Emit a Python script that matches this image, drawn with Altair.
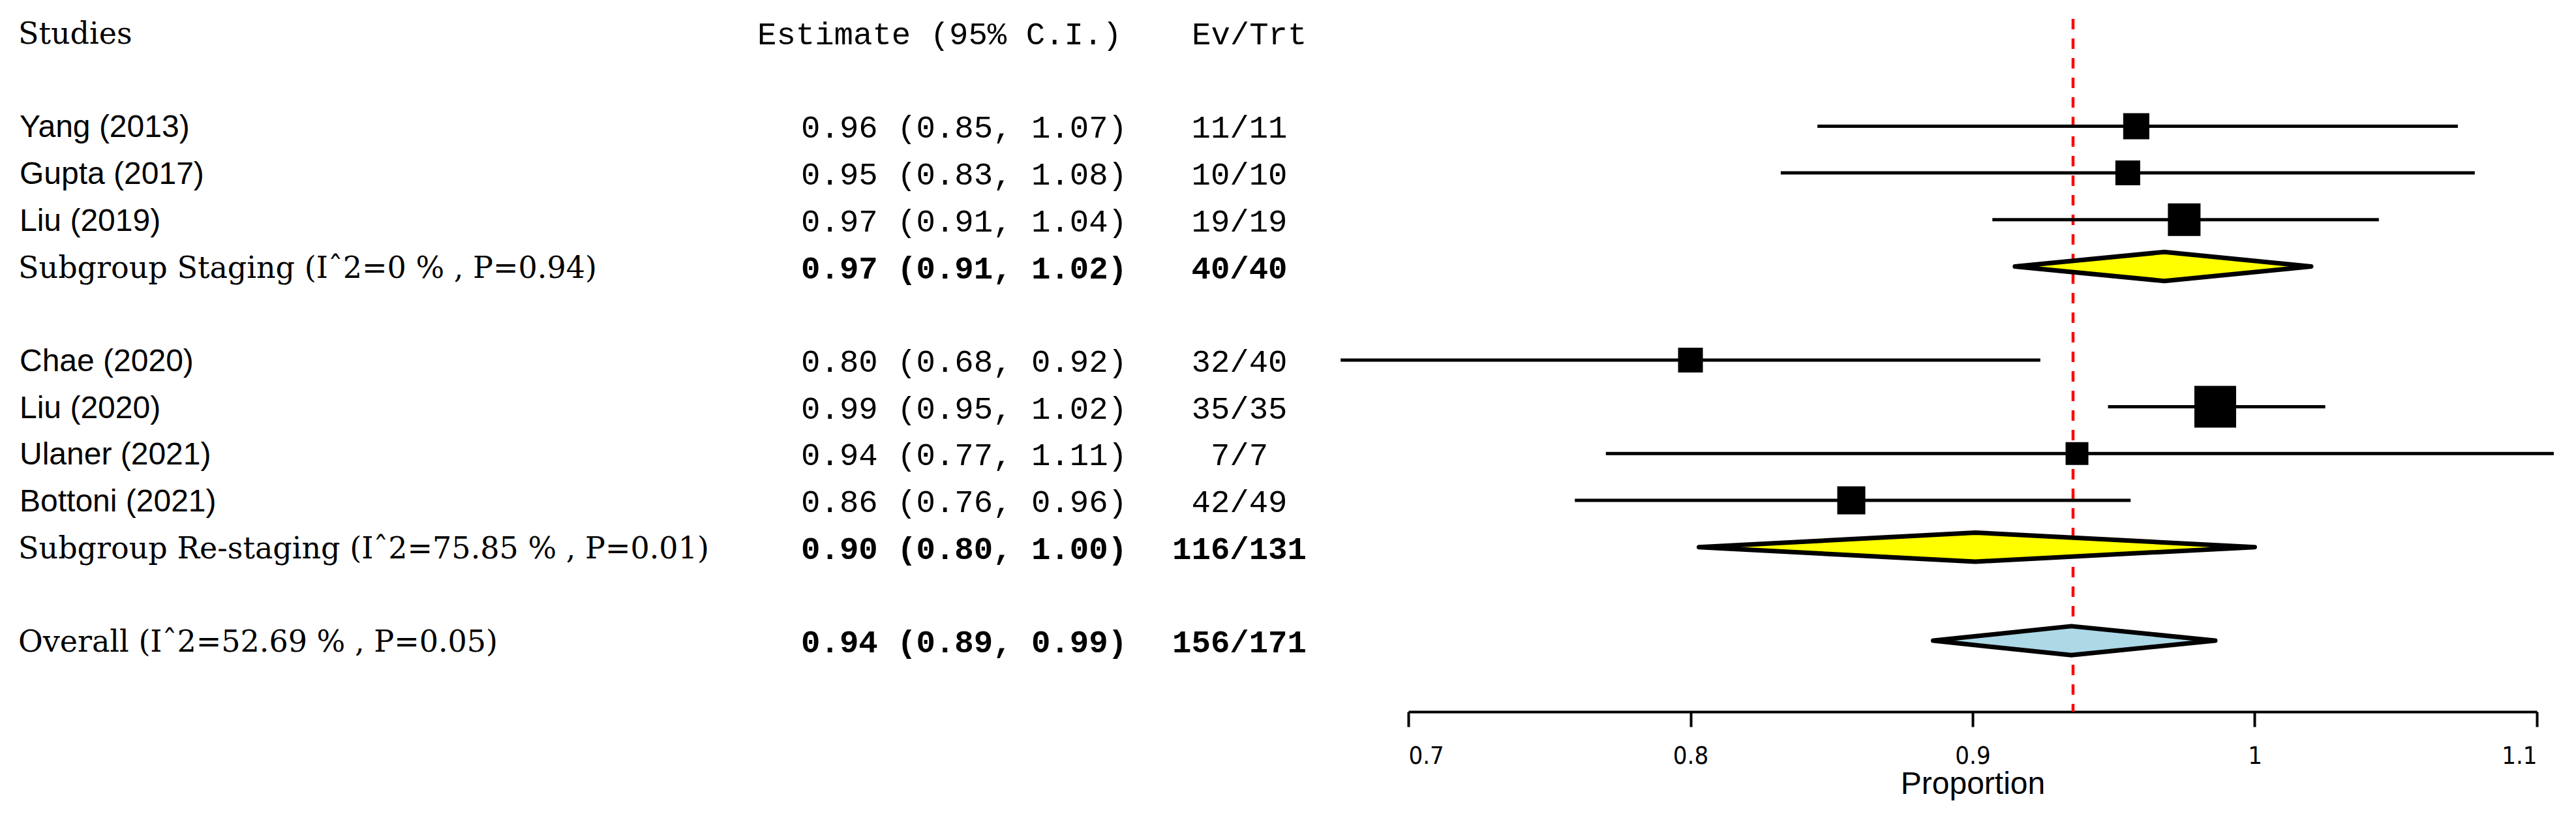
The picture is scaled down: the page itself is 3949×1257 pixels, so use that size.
import altair as alt
import pandas as pd

# ---------------- data ----------------
study_names = ["Yang (2013)", "Gupta (2017)", "Liu (2019)", "Chae (2020)",
               "Liu (2020)", "Ulaner (2021)", "Bottoni (2021)"]
study_rows = [2, 3, 4, 7, 8, 9, 10]
study_est = [0.958, 0.955, 0.975, 0.800, 0.986, 0.937, 0.857]
study_lower = [0.845, 0.832, 0.907, 0.676, 0.948, 0.770, 0.759]
study_upper = [1.072, 1.078, 1.044, 0.924, 1.025, 1.106, 0.956]
study_ci_text = ["0.96 (0.85, 1.07)", "0.95 (0.83, 1.08)", "0.97 (0.91, 1.04)",
                 "0.80 (0.68, 0.92)", "0.99 (0.95, 1.02)", "0.94 (0.77, 1.11)",
                 "0.86 (0.76, 0.96)"]
study_evtrt = ["11/11", "10/10", "19/19", "32/40", "35/35", "7/7", "42/49"]
study_weight = [40, 38, 50, 38, 64, 35, 43]

summ_names = ["Subgroup Staging (I\u02c62=0 % , P=0.94)",
              "Subgroup Re-staging (I\u02c62=75.85 % , P=0.01)",
              "Overall (I\u02c62=52.69 % , P=0.05)"]
summ_key = ["staging", "restaging", "overall"]
summ_rows = [5, 11, 13]
summ_est = [0.968, 0.901, 0.935]
summ_lower = [0.915, 0.803, 0.886]
summ_upper = [1.020, 1.000, 0.986]
summ_ci_text = ["0.97 (0.91, 1.02)", "0.90 (0.80, 1.00)", "0.94 (0.89, 0.99)"]
summ_evtrt = ["40/40", "116/131", "156/171"]
summ_fill = ["#FFFF00", "#FFFF00", "#ADD8E6"]

ref_value = [0.9356]
x_ticks = [0.7, 0.8, 0.9, 1.0, 1.1]
headers = ["Studies", "Estimate (95% C.I.)", "Ev/Trt"]

# ---------------- layout constants ----------------
W, H = 1730, 1062
HALF_H = 0.31  # half height of diamonds, in rows

studies = pd.DataFrame({
    "name": study_names, "row": study_rows, "est": study_est,
    "lo": study_lower, "hi": study_upper, "ci": study_ci_text,
    "ev": study_evtrt, "w": study_weight,
})
summ = pd.DataFrame({
    "name": summ_names, "row": summ_rows, "ci": summ_ci_text, "ev": summ_evtrt,
})

dia_recs = []
for k, r, lo, e, hi in zip(summ_key, summ_rows, summ_lower, summ_est, summ_upper):
    dia_recs.append({"g": k, "x": lo, "yt": r, "yb": r})
    dia_recs.append({"g": k, "x": e, "yt": r - HALF_H, "yb": r + HALF_H})
    dia_recs.append({"g": k, "x": hi, "yt": r, "yb": r})
diamonds = pd.DataFrame(dia_recs)

hdr = pd.DataFrame({"t": headers, "row": [0, 0, 0]})
ref_df = pd.DataFrame({"x": ref_value})

xscale = alt.Scale(domain=[0.7, 1.1], nice=False, zero=False)
yscale = alt.Scale(domain=[-0.293, 14.519], reverse=True, nice=False, zero=False)

COND = "DejaVu Sans Condensed, Liberation Sans Narrow, Liberation Sans"
xaxis = alt.Axis(values=x_ticks, format="~g", title="Proportion", grid=False,
                 domainColor="black", domainWidth=4, tickColor="black", tickWidth=4,
                 tickSize=23, labelFont=COND, labelFontSize=38,
                 labelColor="black", labelPadding=26, titleFont="Liberation Sans",
                 titleFontSize=48, titleFontWeight="normal", titleColor="black",
                 titlePadding=0)

ref_rule = alt.Chart(ref_df).mark_rule(color="#FF0000", strokeWidth=4.5,
                                       strokeDash=[16, 14]).encode(
    x=alt.X("x:Q", scale=xscale, axis=xaxis),
    y=alt.value(0), y2=alt.value(H))

ci = alt.Chart(studies).mark_rule(color="black", strokeWidth=5).encode(
    x=alt.X("lo:Q", scale=xscale), x2="hi:Q",
    y=alt.Y("row:Q", scale=yscale, axis=None))

boxes = alt.Chart(studies).transform_calculate(sz="datum.w*datum.w").mark_square(
    filled=True, color="black", opacity=1).encode(
    x=alt.X("est:Q", scale=xscale),
    y=alt.Y("row:Q", scale=yscale, axis=None),
    size=alt.Size("sz:Q", scale=None, legend=None))

dia = alt.Chart(diamonds).mark_area(stroke="black", strokeWidth=7, opacity=1,
                                    strokeJoin="round").encode(
    x=alt.X("x:Q", scale=xscale),
    y=alt.Y("yt:Q", scale=yscale, axis=None), y2="yb:Q",
    color=alt.Color("g:N", scale=alt.Scale(domain=summ_key, range=summ_fill), legend=None),
    detail="g:N")

def txt(df, field, x, align, font, size, weight="normal", dy=3):
    return alt.Chart(df).mark_text(align=align, baseline="middle", font=font,
                                   fontSize=size, fontWeight=weight, color="black",
                                   dy=dy).encode(
        x=alt.value(x), y=alt.Y("row:Q", scale=yscale, axis=None), text=f"{field}:N")

ORIGIN = 2159
t_names = txt(studies, "name", 30 - ORIGIN, "left", "Liberation Sans", 48)
t_ci = txt(studies, "ci", 1728 - ORIGIN, "right", "Liberation Mono", 49)
t_ev = txt(studies, "ev", 1900 - ORIGIN, "center", "Liberation Mono", 49)
s_names = txt(summ, "name", 28 - ORIGIN, "left", "DejaVu Serif", 46)
s_ci = txt(summ, "ci", 1728 - ORIGIN, "right", "Liberation Mono", 49, "bold")
s_ev = txt(summ, "ev", 1900 - ORIGIN, "center", "Liberation Mono", 49, "bold")
h0 = txt(hdr.iloc[[0]], "t", 28 - ORIGIN, "left", "DejaVu Serif", 46)
h1 = txt(hdr.iloc[[1]], "t", 1161 - ORIGIN, "left", "Liberation Mono", 49)
h2 = txt(hdr.iloc[[2]], "t", 1827 - ORIGIN, "left", "Liberation Mono", 49)

chart = alt.layer(ref_rule, ci, dia, boxes, t_names, t_ci, t_ev, s_names, s_ci, s_ev,
                  h0, h1, h2).properties(
    width=W, height=H,
    autosize=alt.AutoSizeParams(type="none"),
    padding={"left": ORIGIN - 8, "top": 21, "right": 40, "bottom": 150},
    background="white",
).configure_view(stroke=None)

chart.save("out.html", embed_options={"renderer": "svg", "actions": False})
